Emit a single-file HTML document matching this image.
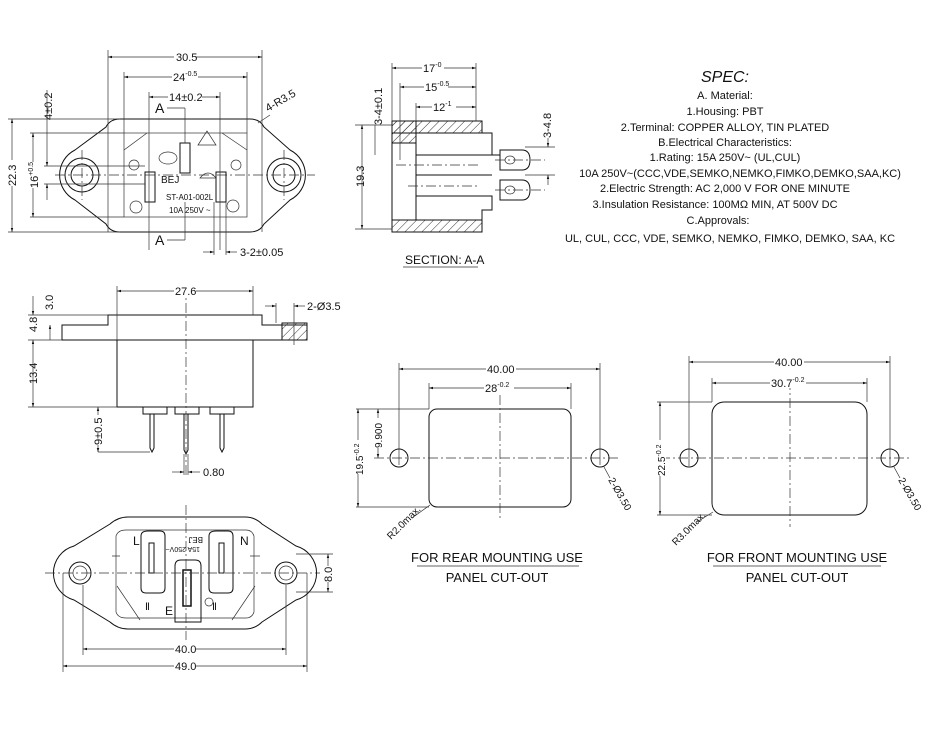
<!DOCTYPE html>
<html><head><meta charset="utf-8"><style>
html,body{margin:0;padding:0;background:#fff}
svg{display:block}
text{font-family:"Liberation Sans Narrow","Liberation Sans",sans-serif;fill:#111}
.l{stroke:#111;stroke-width:1;fill:none}
.t{stroke:#333;stroke-width:.7;fill:none}
.c{stroke:#333;stroke-width:.7;fill:none;stroke-dasharray:10 3 2 3}
</style></head><body>
<svg width="930" height="744" viewBox="0 0 930 744" xmlns="http://www.w3.org/2000/svg">
<defs>
<marker id="a" viewBox="0 0 10 10" refX="10" refY="5" markerWidth="6" markerHeight="6" orient="auto-start-reverse"><path d="M0,2L10,5L0,8z" fill="#111"/></marker>
<pattern id="h" width="6" height="6" patternUnits="userSpaceOnUse" patternTransform="rotate(45)"><line x1="0" y1="0" x2="0" y2="6" stroke="#333" stroke-width="1"/></pattern>
</defs>

<!-- ===== TOP-LEFT FRONT VIEW ===== -->
<path class="l" d="M120,119 H250 Q260,119 264,127 L290,150 A28,28 0 0 1 290,200 L264,224 Q260,232 250,232 H120 Q110,232 106,224 L75,200 A28,28 0 0 1 75,150 L106,127 Q110,119 120,119 Z"/>
<rect class="t" x="124" y="133" width="123" height="84"/>
<line class="t" x1="124" y1="150" x2="147" y2="133"/>
<line class="t" x1="222" y1="133" x2="247" y2="150"/>
<circle class="l" cx="82" cy="175" r="17"/><circle class="l" cx="82" cy="175" r="11"/>
<circle class="l" cx="284" cy="175" r="17"/><circle class="l" cx="284" cy="175" r="11"/>
<line class="c" x1="55" y1="175" x2="315" y2="175"/>
<line class="c" x1="82" y1="150" x2="82" y2="200"/><line class="c" x1="284" y1="150" x2="284" y2="200"/>
<rect class="l" x="145" y="172" width="10" height="30"/><rect class="l" x="180" y="143" width="10" height="30"/><rect class="l" x="216" y="172" width="10" height="30"/>
<path class="t" d="M198,145 L207,131 L216,145 Z"/>
<ellipse class="t" cx="168" cy="158" rx="9" ry="6"/>
<path class="t" d="M200,178 Q208,168 216,178 Z"/>
<circle class="t" cx="134" cy="165" r="5"/><circle class="t" cx="136" cy="207" r="6"/><circle class="t" cx="236" cy="165" r="5"/><circle class="t" cx="233" cy="206" r="6"/>
<text x="161" y="183" font-size="10">BEJ</text>
<text x="166" y="200" font-size="8">ST-A01-002L</text>
<text x="169" y="213" font-size="8">10A 250V ~</text>
<!-- dims -->
<line class="t" x1="108" y1="50" x2="108" y2="232"/><line class="t" x1="262" y1="50" x2="262" y2="232"/>
<line class="t" x1="108" y1="57" x2="262" y2="57" marker-start="url(#a)" marker-end="url(#a)"/>
<rect x="174" y="50" width="22" height="12" fill="#fff"/><text x="176" y="61" font-size="11">30.5</text>
<line class="t" x1="124" y1="72" x2="124" y2="133"/><line class="t" x1="247" y1="72" x2="247" y2="133"/>
<line class="t" x1="124" y1="77" x2="247" y2="77" marker-start="url(#a)" marker-end="url(#a)"/>
<rect x="172" y="70" width="26" height="12" fill="#fff"/><text x="173" y="81" font-size="11">24<tspan font-size="7" dy="-5">-0.5</tspan></text>
<line class="t" x1="149" y1="92" x2="149" y2="250"/><line class="t" x1="220" y1="92" x2="220" y2="250"/>
<line class="t" x1="149" y1="97" x2="220" y2="97" marker-start="url(#a)" marker-end="url(#a)"/>
<rect x="168" y="90" width="34" height="12" fill="#fff"/><text x="169" y="101" font-size="11">14±0.2</text>
<text x="155" y="113" font-size="14">A</text><line class="t" x1="167" y1="108" x2="185" y2="108"/><line class="t" x1="185" y1="108" x2="185" y2="143"/>
<text x="155" y="245" font-size="14">A</text><line class="t" x1="167" y1="240" x2="185" y2="240"/><line class="t" x1="185" y1="240" x2="185" y2="202"/>
<line class="t" x1="258" y1="123" x2="270" y2="115"/><text x="268" y="112" font-size="11" transform="rotate(-30 268 112)">4-R3.5</text>
<line class="t" x1="8" y1="119" x2="120" y2="119"/><line class="t" x1="8" y1="232" x2="120" y2="232"/>
<line class="t" x1="12" y1="119" x2="12" y2="232" marker-start="url(#a)" marker-end="url(#a)"/>
<rect x="6" y="160" width="12" height="26" fill="#fff"/><text x="16" y="186" font-size="11" transform="rotate(-90 16 186)" dx="0">22.3</text>
<line class="t" x1="30" y1="133" x2="124" y2="133"/><line class="t" x1="30" y1="217" x2="124" y2="217"/>
<line class="t" x1="33" y1="133" x2="33" y2="217" marker-start="url(#a)" marker-end="url(#a)"/>
<rect x="27" y="162" width="12" height="26" fill="#fff"/><text x="38" y="188" font-size="11" transform="rotate(-90 38 188)">16<tspan font-size="7" dy="-5">+0.5</tspan></text>
<line class="t" x1="44" y1="166" x2="145" y2="166"/><line class="t" x1="44" y1="184" x2="145" y2="184"/>
<line class="t" x1="47" y1="90" x2="47" y2="166" marker-end="url(#a)"/><line class="t" x1="47" y1="200" x2="47" y2="184" marker-end="url(#a)"/>
<text x="52" y="120" font-size="11" transform="rotate(-90 52 120)">4±0.2</text>
<line class="t" x1="214" y1="202" x2="214" y2="255"/><line class="t" x1="226" y1="202" x2="226" y2="255"/>
<line class="t" x1="203" y1="252" x2="214" y2="252" marker-end="url(#a)"/><line class="t" x1="237" y1="252" x2="226" y2="252" marker-end="url(#a)"/>
<text x="240" y="256" font-size="11">3-2±0.05</text>

<!-- ===== SECTION A-A ===== -->
<rect x="392" y="121" width="90" height="12" fill="url(#h)" stroke="#111"/>
<rect x="392" y="220" width="90" height="12" fill="url(#h)" stroke="#111"/>
<rect x="392" y="121" width="24" height="22" fill="url(#h)" stroke="#111"/>
<path class="l" d="M392,121 V232 M416,143 V220 M482,133 H492 V155 H500 M416,155 H492 M416,175 H492 M416,196 H492 V210 H482 V220"/>
<path class="l" d="M500,150 H522 Q530,150 530,160 Q530,170 522,170 H500 Z M500,180 H522 Q530,180 530,190 Q530,200 522,200 H500 Z"/>
<ellipse class="t" cx="510" cy="160" rx="5" ry="4"/><ellipse class="t" cx="510" cy="190" rx="5" ry="4"/>
<line class="c" x1="396" y1="165" x2="480" y2="165"/><line class="c" x1="408" y1="186" x2="480" y2="186"/>
<line class="c" x1="495" y1="160" x2="545" y2="160"/><line class="c" x1="495" y1="190" x2="545" y2="190"/>
<line class="t" x1="392" y1="63" x2="392" y2="121"/><line class="t" x1="476" y1="63" x2="476" y2="121"/>
<line class="t" x1="392" y1="68" x2="476" y2="68" marker-start="url(#a)" marker-end="url(#a)"/>
<rect x="422" y="61" width="22" height="12" fill="#fff"/><text x="423" y="72" font-size="11">17<tspan font-size="7" dy="-5">-0</tspan></text>
<line class="t" x1="400" y1="83" x2="400" y2="160"/>
<line class="t" x1="400" y1="87" x2="476" y2="87" marker-start="url(#a)" marker-end="url(#a)"/>
<rect x="424" y="80" width="24" height="12" fill="#fff"/><text x="425" y="91" font-size="11">15<tspan font-size="7" dy="-5">-0.5</tspan></text>
<line class="t" x1="416" y1="103" x2="416" y2="121"/>
<line class="t" x1="416" y1="107" x2="476" y2="107" marker-start="url(#a)" marker-end="url(#a)"/>
<rect x="432" y="100" width="24" height="12" fill="#fff"/><text x="433" y="111" font-size="11">12<tspan font-size="7" dy="-5">-1</tspan></text>
<line class="t" x1="355" y1="125" x2="392" y2="125"/><line class="t" x1="355" y1="229" x2="392" y2="229"/>
<line class="t" x1="362" y1="125" x2="362" y2="229" marker-start="url(#a)" marker-end="url(#a)"/>
<text x="364" y="187" font-size="11" transform="rotate(-90 364 187)">19.3</text>
<line class="t" x1="375" y1="125" x2="375" y2="155"/><text x="382" y="125" font-size="11" transform="rotate(-90 382 125)">3-4±0.1</text>
<line class="t" x1="525" y1="147" x2="555" y2="147"/><line class="t" x1="525" y1="175" x2="555" y2="175"/>
<text x="551" y="138" font-size="11" transform="rotate(-90 551 138)">3-4.8</text>
<line class="t" x1="548" y1="138" x2="548" y2="147" marker-end="url(#a)"/><line class="t" x1="548" y1="185" x2="548" y2="175" marker-end="url(#a)"/>
<text x="405" y="264" font-size="12">SECTION: A-A</text><line class="t" x1="403" y1="267" x2="478" y2="267"/>

<!-- ===== SPEC ===== -->
<g font-size="11" text-anchor="middle">
<text x="725" y="82" font-size="16" font-style="italic">SPEC:</text>
<text x="725" y="99">A. Material:</text>
<text x="725" y="115">1.Housing: PBT</text>
<text x="725" y="131">2.Terminal: COPPER ALLOY, TIN PLATED</text>
<text x="725" y="146">B.Electrical Characteristics:</text>
<text x="725" y="161">1.Rating:  15A 250V~ (UL,CUL)</text>
<text x="740" y="177">10A 250V~(CCC,VDE,SEMKO,NEMKO,FIMKO,DEMKO,SAA,KC)</text>
<text x="725" y="192">2.Electric Strength: AC 2,000 V FOR ONE MINUTE</text>
<text x="715" y="208">3.Insulation Resistance: 100MΩ MIN, AT 500V DC</text>
<text x="718" y="224">C.Approvals:</text>
<text x="730" y="242">UL, CUL, CCC, VDE, SEMKO, NEMKO, FIMKO, DEMKO, SAA, KC</text>
</g>

<!-- ===== SIDE VIEW ===== -->
<path class="l" d="M62,325 H108 V315 H262 V325 H307 V340 H62 Z"/>
<rect class="l" x="117" y="340" width="136" height="67"/>
<rect x="282" y="323" width="25" height="17" fill="url(#h)" stroke="#111"/>
<rect x="143" y="407" width="24" height="7" class="l"/><rect x="175" y="407" width="24" height="7" class="l"/><rect x="210" y="407" width="24" height="7" class="l"/>
<path class="l" d="M150,414 V448 L152,452 L154,448 V414 M184,414 V450 L186,454 L188,450 V414 M220,414 V448 L222,452 L224,448 V414"/>
<line class="c" x1="186" y1="285" x2="186" y2="475"/>
<line class="t" x1="117" y1="286" x2="117" y2="340"/><line class="t" x1="253" y1="286" x2="253" y2="315"/>
<line class="t" x1="117" y1="291" x2="253" y2="291" marker-start="url(#a)" marker-end="url(#a)"/>
<rect x="174" y="284" width="22" height="12" fill="#fff"/><text x="175" y="295" font-size="11">27.6</text>
<line class="t" x1="276" y1="303" x2="276" y2="323"/><line class="t" x1="294" y1="303" x2="294" y2="345"/>
<line class="t" x1="265" y1="306" x2="276" y2="306" marker-end="url(#a)"/><line class="t" x1="305" y1="306" x2="294" y2="306" marker-end="url(#a)"/>
<text x="307" y="310" font-size="11">2-Ø3.5</text>
<line class="t" x1="28" y1="315" x2="108" y2="315"/><line class="t" x1="28" y1="340" x2="62" y2="340"/><line class="t" x1="28" y1="407" x2="117" y2="407"/>
<line class="t" x1="33" y1="296" x2="33" y2="315" marker-end="url(#a)"/><line class="t" x1="50" y1="340" x2="50" y2="325" marker-end="url(#a)"/>
<text x="53" y="310" font-size="11" transform="rotate(-90 53 310)">3.0</text>
<text x="37" y="332" font-size="11" transform="rotate(-90 37 332)">4.8</text>
<line class="t" x1="33" y1="340" x2="33" y2="407" marker-start="url(#a)" marker-end="url(#a)"/>
<text x="37" y="384" font-size="11" transform="rotate(-90 37 384)">13.4</text>
<line class="t" x1="98" y1="452" x2="150" y2="452"/>
<line class="t" x1="98" y1="407" x2="98" y2="452" marker-start="url(#a)" marker-end="url(#a)"/>
<rect x="92" y="415" width="12" height="30" fill="#fff"/><text x="102" y="445" font-size="11" transform="rotate(-90 102 445)">9±0.5</text>
<line class="t" x1="184" y1="454" x2="184" y2="475"/><line class="t" x1="188" y1="454" x2="188" y2="475"/>
<line class="t" x1="172" y1="472" x2="184" y2="472" marker-end="url(#a)"/><line class="t" x1="200" y1="472" x2="188" y2="472" marker-end="url(#a)"/>
<text x="203" y="476" font-size="11">0.80</text>

<!-- ===== BOTTOM VIEW ===== -->
<path class="l" d="M128,517 H245 Q255,517 262,524 L296,546 A28,28 0 0 1 296,600 L262,622 Q255,629 245,629 H128 Q118,629 110,622 L74,600 A28,28 0 0 1 74,546 L110,524 Q118,517 128,517 Z"/>
<path class="t" d="M126,530 H246 Q252,530 254,536 V612 Q252,618 246,618 H126 Q118,618 116,612 V536 Q118,530 126,530 Z"/>
<path class="l" d="M148,531 H160 Q165,531 165,536 V588 Q165,593 160,593 H146 Q141,593 141,588 V536 Q141,531 148,531 Z"/>
<path class="l" d="M216,531 H228 Q233,531 233,536 V588 Q233,593 228,593 H214 Q209,593 209,588 V536 Q209,531 216,531 Z"/>
<rect class="l" x="149" y="543" width="5" height="30"/><rect class="l" x="219" y="543" width="5" height="30"/>
<path class="l" d="M175,566 Q175,560 181,560 H195 Q201,560 201,566 V622 H175 Z"/>
<rect x="183" y="570" width="8" height="36" fill="#fff" stroke="#111" stroke-width="1.5"/>
<path class="t" d="M117,586 L140,620 M255,586 L232,620 M112,556 H120 M250,556 H260"/>
<circle class="l" cx="80" cy="573" r="11"/><circle class="t" cx="80" cy="573" r="7"/>
<circle class="l" cx="286" cy="573" r="11"/><circle class="t" cx="286" cy="573" r="7"/>
<circle class="t" cx="209" cy="602" r="4"/>
<text x="133" y="545" font-size="12">L</text><text x="240" y="545" font-size="12">N</text><text x="165" y="615" font-size="12">E</text>
<text x="173" y="543" font-size="8" transform="rotate(180 188 540)">BEJ</text>
<text x="172" y="553" font-size="7" transform="rotate(180 186 550)">15A 250V~</text>
<text x="145" y="610" font-size="10">Ⅱ</text><text x="212" y="610" font-size="10">Ⅱ</text>
<line class="c" x1="45" y1="573" x2="320" y2="573"/><line class="c" x1="186" y1="505" x2="186" y2="640"/>
<line class="t" x1="83" y1="585" x2="83" y2="655"/><line class="t" x1="286" y1="585" x2="286" y2="655"/>
<line class="t" x1="83" y1="649" x2="286" y2="649" marker-start="url(#a)" marker-end="url(#a)"/>
<rect x="174" y="642" width="22" height="12" fill="#fff"/><text x="175" y="653" font-size="11">40.0</text>
<line class="t" x1="63" y1="573" x2="63" y2="672"/><line class="t" x1="307" y1="573" x2="307" y2="672"/>
<line class="t" x1="63" y1="666" x2="307" y2="666" marker-start="url(#a)" marker-end="url(#a)"/>
<rect x="174" y="659" width="22" height="12" fill="#fff"/><text x="175" y="670" font-size="11">49.0</text>
<line class="t" x1="296" y1="554" x2="333" y2="554"/><line class="t" x1="296" y1="592" x2="333" y2="592"/>
<line class="t" x1="328" y1="554" x2="328" y2="592" marker-start="url(#a)" marker-end="url(#a)"/>
<rect x="322" y="566" width="12" height="16" fill="#fff"/><text x="332" y="582" font-size="11" transform="rotate(-90 332 582)">8.0</text>

<!-- ===== REAR CUTOUT ===== -->
<rect class="l" x="429" y="409" width="142" height="98" rx="8"/>
<circle class="l" cx="399" cy="458" r="9"/><circle class="l" cx="600" cy="458" r="9"/>
<line class="c" x1="374" y1="458" x2="618" y2="458"/><line class="c" x1="500" y1="395" x2="500" y2="520"/>
<line class="t" x1="399" y1="363" x2="399" y2="465"/><line class="t" x1="600" y1="363" x2="600" y2="465"/>
<line class="t" x1="399" y1="369" x2="600" y2="369" marker-start="url(#a)" marker-end="url(#a)"/>
<rect x="486" y="362" width="30" height="12" fill="#fff"/><text x="487" y="373" font-size="11">40.00</text>
<line class="t" x1="429" y1="383" x2="429" y2="409"/><line class="t" x1="571" y1="383" x2="571" y2="409"/>
<line class="t" x1="429" y1="388" x2="571" y2="388" marker-start="url(#a)" marker-end="url(#a)"/>
<rect x="484" y="381" width="30" height="12" fill="#fff"/><text x="485" y="392" font-size="11">28<tspan font-size="7" dy="-5">-0.2</tspan></text>
<line class="t" x1="356" y1="409" x2="429" y2="409"/><line class="t" x1="356" y1="507" x2="429" y2="507"/>
<line class="t" x1="358" y1="409" x2="358" y2="507" marker-start="url(#a)" marker-end="url(#a)"/>
<rect x="352" y="440" width="12" height="34" fill="#fff"/><text x="363" y="475" font-size="10" transform="rotate(-90 363 475)">19.5<tspan font-size="7" dy="-4">-0.2</tspan></text>
<line class="t" x1="378" y1="409" x2="378" y2="458" marker-start="url(#a)" marker-end="url(#a)"/>
<rect x="372" y="418" width="12" height="30" fill="#fff"/><text x="382" y="448" font-size="10" transform="rotate(-90 382 448)">9.900</text>
<line class="t" x1="412" y1="518" x2="430" y2="505"/><text x="391" y="540" font-size="10" transform="rotate(-45 391 540)">R2.0max.</text>
<line class="t" x1="604" y1="467" x2="610" y2="478"/><text x="608" y="480" font-size="10" transform="rotate(60 608 480)">2-Ø3.50</text>
<text x="497" y="562" font-size="13" text-anchor="middle">FOR REAR MOUNTING USE</text>
<line class="t" x1="417" y1="566" x2="579" y2="566"/>
<text x="497" y="582" font-size="13" text-anchor="middle">PANEL CUT-OUT</text>

<!-- ===== FRONT CUTOUT ===== -->
<rect class="l" x="712" y="402" width="155" height="113" rx="12"/>
<circle class="l" cx="689" cy="458" r="9"/><circle class="l" cx="890" cy="458" r="9"/>
<line class="c" x1="660" y1="458" x2="910" y2="458"/><line class="c" x1="790" y1="380" x2="790" y2="527"/>
<line class="t" x1="689" y1="356" x2="689" y2="466"/><line class="t" x1="890" y1="356" x2="890" y2="466"/>
<line class="t" x1="689" y1="362" x2="890" y2="362" marker-start="url(#a)" marker-end="url(#a)"/>
<rect x="774" y="355" width="30" height="12" fill="#fff"/><text x="775" y="366" font-size="11">40.00</text>
<line class="t" x1="712" y1="378" x2="712" y2="402"/><line class="t" x1="867" y1="378" x2="867" y2="402"/>
<line class="t" x1="712" y1="383" x2="867" y2="383" marker-start="url(#a)" marker-end="url(#a)"/>
<rect x="770" y="376" width="36" height="12" fill="#fff"/><text x="771" y="387" font-size="11">30.7<tspan font-size="7" dy="-5">-0.2</tspan></text>
<line class="t" x1="657" y1="402" x2="712" y2="402"/><line class="t" x1="657" y1="515" x2="712" y2="515"/>
<line class="t" x1="660" y1="402" x2="660" y2="515" marker-start="url(#a)" marker-end="url(#a)"/>
<rect x="654" y="440" width="12" height="36" fill="#fff"/><text x="665" y="476" font-size="10" transform="rotate(-90 665 476)">22.5<tspan font-size="7" dy="-4">-0.2</tspan></text>
<line class="t" x1="697" y1="522" x2="713" y2="512"/><text x="676" y="546" font-size="10" transform="rotate(-45 676 546)">R3.0max.</text>
<line class="t" x1="894" y1="467" x2="900" y2="478"/><text x="898" y="480" font-size="10" transform="rotate(60 898 480)">2-Ø3.50</text>
<text x="797" y="562" font-size="13" text-anchor="middle">FOR FRONT MOUNTING USE</text>
<line class="t" x1="713" y1="566" x2="881" y2="566"/>
<text x="797" y="582" font-size="13" text-anchor="middle">PANEL CUT-OUT</text>
</svg>
</body></html>
